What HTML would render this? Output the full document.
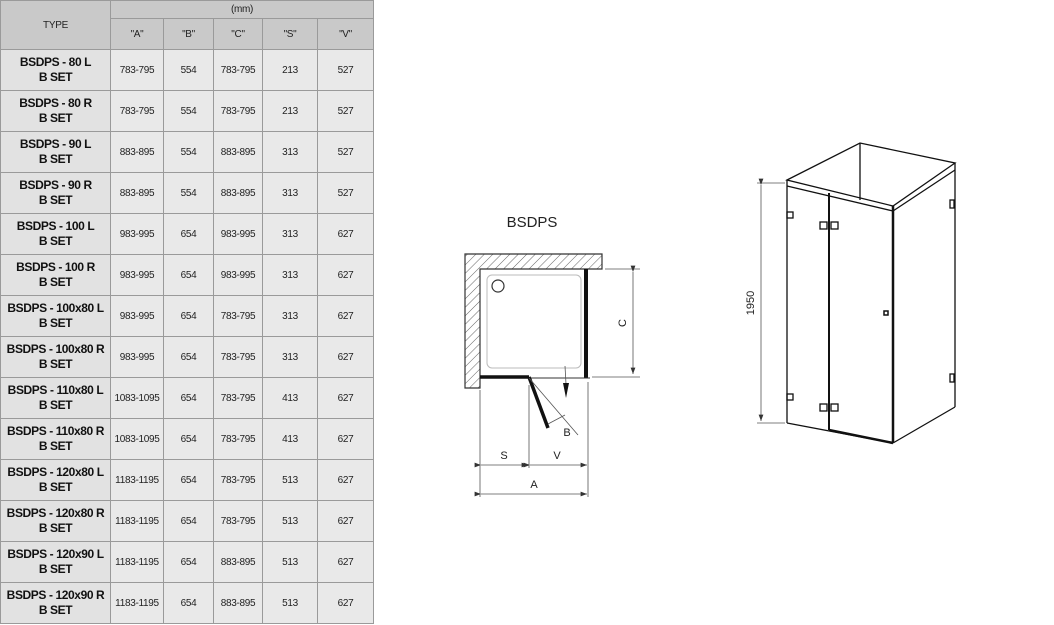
<!DOCTYPE html>
<html><head><meta charset="utf-8"><style>
body{margin:0;width:1054px;height:625px;background:#fff;overflow:hidden;font-family:"Liberation Sans",Arial,sans-serif;position:relative}
table{position:absolute;left:0;top:0;border-collapse:collapse;width:373px;table-layout:fixed}
td{border:1px solid #9a9a9a;text-align:center;padding:0;font-size:10px;color:#222;background:#e9e9e9;letter-spacing:-0.3px}
td.h{background:#c9c9c9;font-size:10px}
td.t{background:#e2e2e2;font-weight:bold;font-size:12px;line-height:15px;color:#111;letter-spacing:-0.4px}
tr.r td{height:40px}
svg{position:absolute;left:0;top:0}
</style></head><body>
<table>
<colgroup><col style="width:110px"><col style="width:53px"><col style="width:50px"><col style="width:49px"><col style="width:55px"><col style="width:56px"></colgroup>
<tr style="height:18px"><td class="h" rowspan="2">TYPE</td><td class="h" colspan="5">(mm)</td></tr>
<tr style="height:31px"><td class="h">"A"</td><td class="h">"B"</td><td class="h">"C"</td><td class="h">"S"</td><td class="h">"V"</td></tr>
<tr class="r"><td class="t">BSDPS - 80 L<br>B SET</td><td>783-795</td><td>554</td><td>783-795</td><td>213</td><td>527</td></tr>
<tr class="r"><td class="t">BSDPS - 80 R<br>B SET</td><td>783-795</td><td>554</td><td>783-795</td><td>213</td><td>527</td></tr>
<tr class="r"><td class="t">BSDPS - 90 L<br>B SET</td><td>883-895</td><td>554</td><td>883-895</td><td>313</td><td>527</td></tr>
<tr class="r"><td class="t">BSDPS - 90 R<br>B SET</td><td>883-895</td><td>554</td><td>883-895</td><td>313</td><td>527</td></tr>
<tr class="r"><td class="t">BSDPS - 100 L<br>B SET</td><td>983-995</td><td>654</td><td>983-995</td><td>313</td><td>627</td></tr>
<tr class="r"><td class="t">BSDPS - 100 R<br>B SET</td><td>983-995</td><td>654</td><td>983-995</td><td>313</td><td>627</td></tr>
<tr class="r"><td class="t">BSDPS - 100x80 L<br>B SET</td><td>983-995</td><td>654</td><td>783-795</td><td>313</td><td>627</td></tr>
<tr class="r"><td class="t">BSDPS - 100x80 R<br>B SET</td><td>983-995</td><td>654</td><td>783-795</td><td>313</td><td>627</td></tr>
<tr class="r"><td class="t">BSDPS - 110x80 L<br>B SET</td><td>1083-1095</td><td>654</td><td>783-795</td><td>413</td><td>627</td></tr>
<tr class="r"><td class="t">BSDPS - 110x80 R<br>B SET</td><td>1083-1095</td><td>654</td><td>783-795</td><td>413</td><td>627</td></tr>
<tr class="r"><td class="t">BSDPS - 120x80 L<br>B SET</td><td>1183-1195</td><td>654</td><td>783-795</td><td>513</td><td>627</td></tr>
<tr class="r"><td class="t">BSDPS - 120x80 R<br>B SET</td><td>1183-1195</td><td>654</td><td>783-795</td><td>513</td><td>627</td></tr>
<tr class="r"><td class="t">BSDPS - 120x90 L<br>B SET</td><td>1183-1195</td><td>654</td><td>883-895</td><td>513</td><td>627</td></tr>
<tr class="r"><td class="t">BSDPS - 120x90 R<br>B SET</td><td>1183-1195</td><td>654</td><td>883-895</td><td>513</td><td>627</td></tr>
</table>
<svg width="1054" height="625" viewBox="0 0 1054 625">
<defs>
<pattern id="hat" width="6" height="6" patternUnits="userSpaceOnUse" patternTransform="rotate(45)"><line x1="0" y1="0" x2="0" y2="6" stroke="#666" stroke-width="1"/></pattern>
<marker id="ar" markerWidth="8" markerHeight="6" refX="8" refY="3" orient="auto"><path d="M0,0 L8,3 L0,6 z" fill="#333"/></marker>
</defs>
<g font-family="Liberation Sans,Arial,sans-serif" fill="#222">
<text x="532" y="227" font-size="15" text-anchor="middle">BSDPS</text>
<text x="504" y="459" font-size="11" text-anchor="middle">S</text>
<text x="557" y="459" font-size="11" text-anchor="middle">V</text>
<text x="534" y="488" font-size="11" text-anchor="middle">A</text>
<text x="567" y="436" font-size="11" text-anchor="middle">B</text>
<text x="626" y="323" font-size="11" text-anchor="middle" transform="rotate(-90 626 323)">C</text>
<text x="754" y="303" font-size="11" text-anchor="middle" transform="rotate(-90 754 303)">1950</text>
</g>
<!-- plan -->
<path d="M465,254 H602 V269 H480 V388 H465 Z" fill="url(#hat)" stroke="#333" stroke-width="1.2"/>
<rect x="487" y="275" width="94" height="93" rx="5" fill="none" stroke="#bbb"/>
<circle cx="498" cy="286" r="6" fill="none" stroke="#333" stroke-width="1.2"/>
<line x1="586" y1="269" x2="586" y2="378" stroke="#111" stroke-width="4"/>
<line x1="480" y1="377" x2="529" y2="377" stroke="#111" stroke-width="3.5"/>
<line x1="529" y1="378" x2="590" y2="378" stroke="#333" stroke-width="1"/>
<line x1="529" y1="377" x2="548" y2="428" stroke="#111" stroke-width="3.5"/>
<line x1="529" y1="378" x2="578" y2="435" stroke="#555" stroke-width="0.8"/>
<line x1="548" y1="424" x2="565" y2="415" stroke="#555" stroke-width="0.8"/>
<line x1="565" y1="366" x2="566" y2="384" stroke="#555" stroke-width="0.8"/>
<path d="M563,383 L569,383 L566,398 Z" fill="#111"/>
<g stroke="#555" stroke-width="0.8" fill="none">
<line x1="605" y1="269" x2="640" y2="269"/><line x1="592" y1="377" x2="640" y2="377"/>
<line x1="633" y1="272" x2="633" y2="374" marker-start="url(#ar)" marker-end="url(#ar)"/>
<line x1="480" y1="390" x2="480" y2="497"/><line x1="529" y1="385" x2="529" y2="468"/><line x1="588" y1="382" x2="588" y2="497"/>
<line x1="481" y1="465" x2="528" y2="465" marker-start="url(#ar)" marker-end="url(#ar)"/>
<line x1="530" y1="465" x2="587" y2="465" marker-start="url(#ar)" marker-end="url(#ar)"/>
<line x1="481" y1="494" x2="587" y2="494" marker-start="url(#ar)" marker-end="url(#ar)"/>
<line x1="757" y1="183" x2="785" y2="183"/><line x1="757" y1="423" x2="785" y2="423"/>
<line x1="761" y1="185" x2="761" y2="421" marker-start="url(#ar)" marker-end="url(#ar)"/>
</g>
<!-- 3D -->
<g stroke="#111" stroke-width="1.3" fill="none">
<path d="M787,180 L860,143 L955,163 L893,206 Z"/>
<line x1="787" y1="186" x2="893" y2="211"/>
<line x1="955" y1="170" x2="893" y2="211"/>
<line x1="860" y1="143" x2="860" y2="200"/>
<line x1="787" y1="180" x2="787" y2="423"/>
<line x1="955" y1="163" x2="955" y2="407"/>
<line x1="893" y1="206" x2="893" y2="443" stroke-width="2.5"/>
<line x1="829" y1="193" x2="829" y2="430" stroke-width="2"/>
<line x1="787" y1="423" x2="893" y2="443"/>
<line x1="955" y1="407" x2="893" y2="443"/>
<line x1="829" y1="430" x2="893" y2="443" stroke-width="2.5"/>
<rect x="787" y="212" width="6" height="6"/><rect x="787" y="394" width="6" height="6"/>
<rect x="820" y="222" width="7" height="7"/><rect x="831" y="222" width="7" height="7"/>
<rect x="820" y="404" width="7" height="7"/><rect x="831" y="404" width="7" height="7"/>
<rect x="950" y="200" width="4" height="8"/><rect x="950" y="374" width="4" height="8"/>
<rect x="884" y="311" width="4" height="4" stroke-width="1.5"/>
</g>
</svg>
</body></html>
